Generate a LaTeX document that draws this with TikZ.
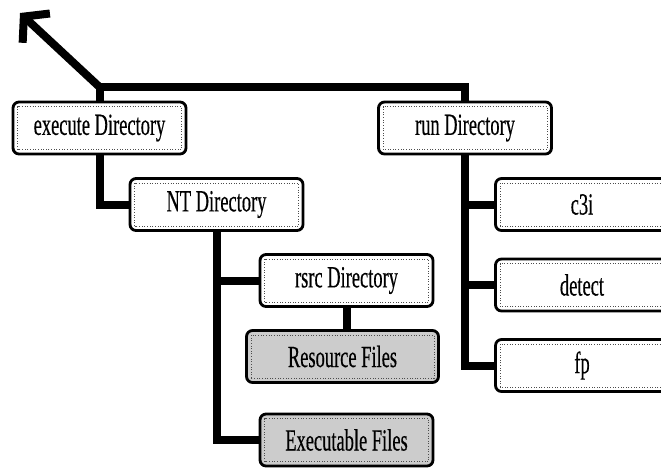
\documentclass[tikz,border=0pt]{standalone}
\usepackage{fontspec}
\setmainfont{Liberation Serif}
\newfontfamily\dirfont[FakeStretch=0.6,FakeBold=0.4]{Liberation Serif}
\usetikzlibrary{arrows.meta,positioning}

\tikzset{
  dirbox/.style={draw, line width=1.6pt, rounded corners=0.12cm, fill=white,
    minimum width=3.46cm, minimum height=1.04cm, inner sep=0pt,
    font=\dirfont\fontsize{17.5}{20}\selectfont,
    path picture={\draw[densely dotted, line width=0.5pt, black!70, sharp corners]
      ([shift={(0.09cm,0.09cm)}]path picture bounding box.south west) rectangle
      ([shift={(-0.09cm,-0.09cm)}]path picture bounding box.north east);}},
  filebox/.style={dirbox, fill=gray!40},
  link/.style={line width=0.16cm}
}

\begin{document}
\begin{tikzpicture}[x=0.02cm, y=-0.02cm]
\useasboundingbox (0,0) rectangle (661,467);
\clip (0,0) rectangle (661,467);

% links
\coordinate (top) at (99.5,87);
\coordinate (tip) at (20,13);

% ... top bar + arrow
\draw[link, -{Straight Barb[length=0.34cm,width=0.8cm]}] (top) -- (tip);

% directories
\node[dirbox] (exec) at (99.5,128) {execute Directory};
\node[dirbox] (run) at (465,128) {run Directory};
\node[dirbox] (nt) at (216.5,204.5) {NT Directory};
\node[dirbox] (rsrc) at (346.5,280.5) {rsrc Directory};
\node[dirbox] (c3i) at (582,204.5) {c3i};
\node[dirbox] (detect) at (582,285) {detect};
\node[dirbox] (fp) at (582,365.5) {fp};

% files
\node[filebox, minimum width=3.84cm] (res) at (342.5,356.5) {Resource Files};
\node[filebox] (exe) at (346.5,440) {Executable Files};

\draw[link] (exec.north) -- (top) -| (run.north);

% ... tree
\draw[link] (exec.south) |- (nt.west);
\draw[link] (nt.south) |- (rsrc.west);
\draw[link] (nt.south) |- (exe.west);
\draw[link] (rsrc.south) -- (res.north -| rsrc.south);
\draw[link] (run.south) |- (c3i.west);
\draw[link] (run.south) |- (detect.west);
\draw[link] (run.south) |- (fp.west);

\end{tikzpicture}
\end{document}
